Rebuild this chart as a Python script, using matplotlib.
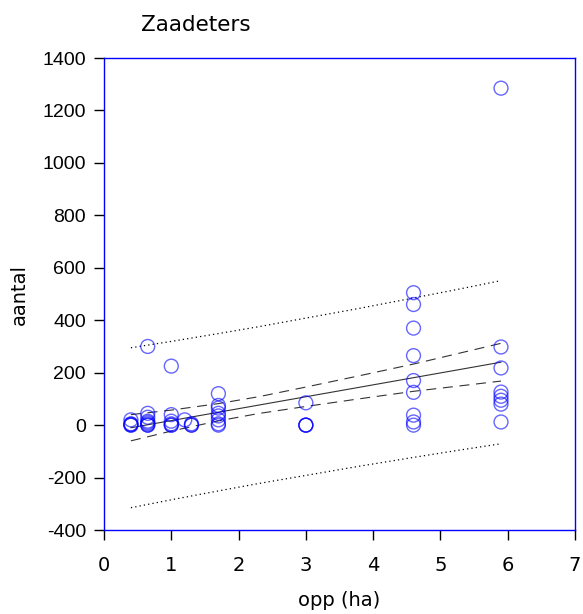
import matplotlib
matplotlib.use('Agg')
import matplotlib.pyplot as plt
import numpy as np

# scatter data: area (ha) vs count
opp = [0.4] * 5 + [0.65] * 8 + [1.0] * 6 + [1.2] + [1.3] * 3 + [1.7] * 8 + [3.0] * 4 + [4.6] * 9 + [5.9] * 8
aantal = ([20, 5, 0, 0, 3]
          + [300, 45, 30, 15, 10, 5, 0, 0]
          + [225, 40, 15, 5, 0, 0]
          + [20]
          + [5, 0, 0]
          + [120, 75, 65, 45, 35, 20, 5, 0]
          + [85, 0, 0, 0]
          + [505, 460, 370, 265, 170, 125, 38, 12, 0]
          + [1285, 298, 218, 126, 110, 95, 80, 12])

# regression line with confidence and prediction bands
fit_x = [0.4, 1.0, 1.7, 2.3, 3.0, 3.8, 4.6, 5.25, 5.9]
fit_y = [-10, 17.3, 49.1, 76.4, 108.2, 144.5, 180.9, 210.4, 240]
ci_half = [50, 40, 33, 32, 37, 44, 52, 62, 72]
pi_half = [305, 302, 300, 299, 300, 301, 304, 307, 311]

fit_y = np.array(fit_y)
ci_half = np.array(ci_half)
pi_half = np.array(pi_half)

plt.rcParams['font.family'] = ['DejaVu Sans']
plt.rcParams['axes.unicode_minus'] = False

fig = plt.figure(figsize=(5.83, 6.14), dpi=100)
ax = fig.add_axes([0.1784, 0.1368, 0.8079, 0.7687])

ax.scatter(opp, aantal, s=100, facecolors='none', edgecolors='#0000ff', alpha=0.6, linewidths=1.0, zorder=3)

ax.plot(fit_x, fit_y, color='#333333', lw=0.8)
ax.plot(fit_x, fit_y + ci_half, color='#333333', lw=0.8, ls=(0, (9, 6)))
ax.plot(fit_x, fit_y - ci_half, color='#333333', lw=0.8, ls=(0, (9, 6)))
ax.plot(fit_x, fit_y + pi_half, color='black', lw=0.9, ls=(0, (1, 2.5)))
ax.plot(fit_x, fit_y - pi_half, color='black', lw=0.9, ls=(0, (1, 2.5)))

ax.set_xlim(0, 7)
ax.set_ylim(-400, 1400)
ax.set_xticks(range(0, 8))
ax.set_yticks(range(-400, 1401, 200))

for sp in ax.spines.values():
    sp.set_color('#0000ff')
    sp.set_linewidth(1.0)

ax.tick_params(direction='out', length=7, width=1, colors='black')
ax.tick_params(axis='x', pad=12, labelsize=14)
ax.tick_params(axis='y', pad=6, labelsize=14)
for lab in ax.get_yticklabels():
    lab.set_fontfamily('Liberation Sans')

ax.set_xlabel('opp (ha)', fontsize=14, labelpad=11)
ax.set_ylabel('aantal', fontsize=14, labelpad=10)

fig.text(196 / 583, 1 - 25 / 614, 'Zaadeters', ha='center', va='center', fontsize=15.5)

fig.savefig('out.png', dpi=100)
